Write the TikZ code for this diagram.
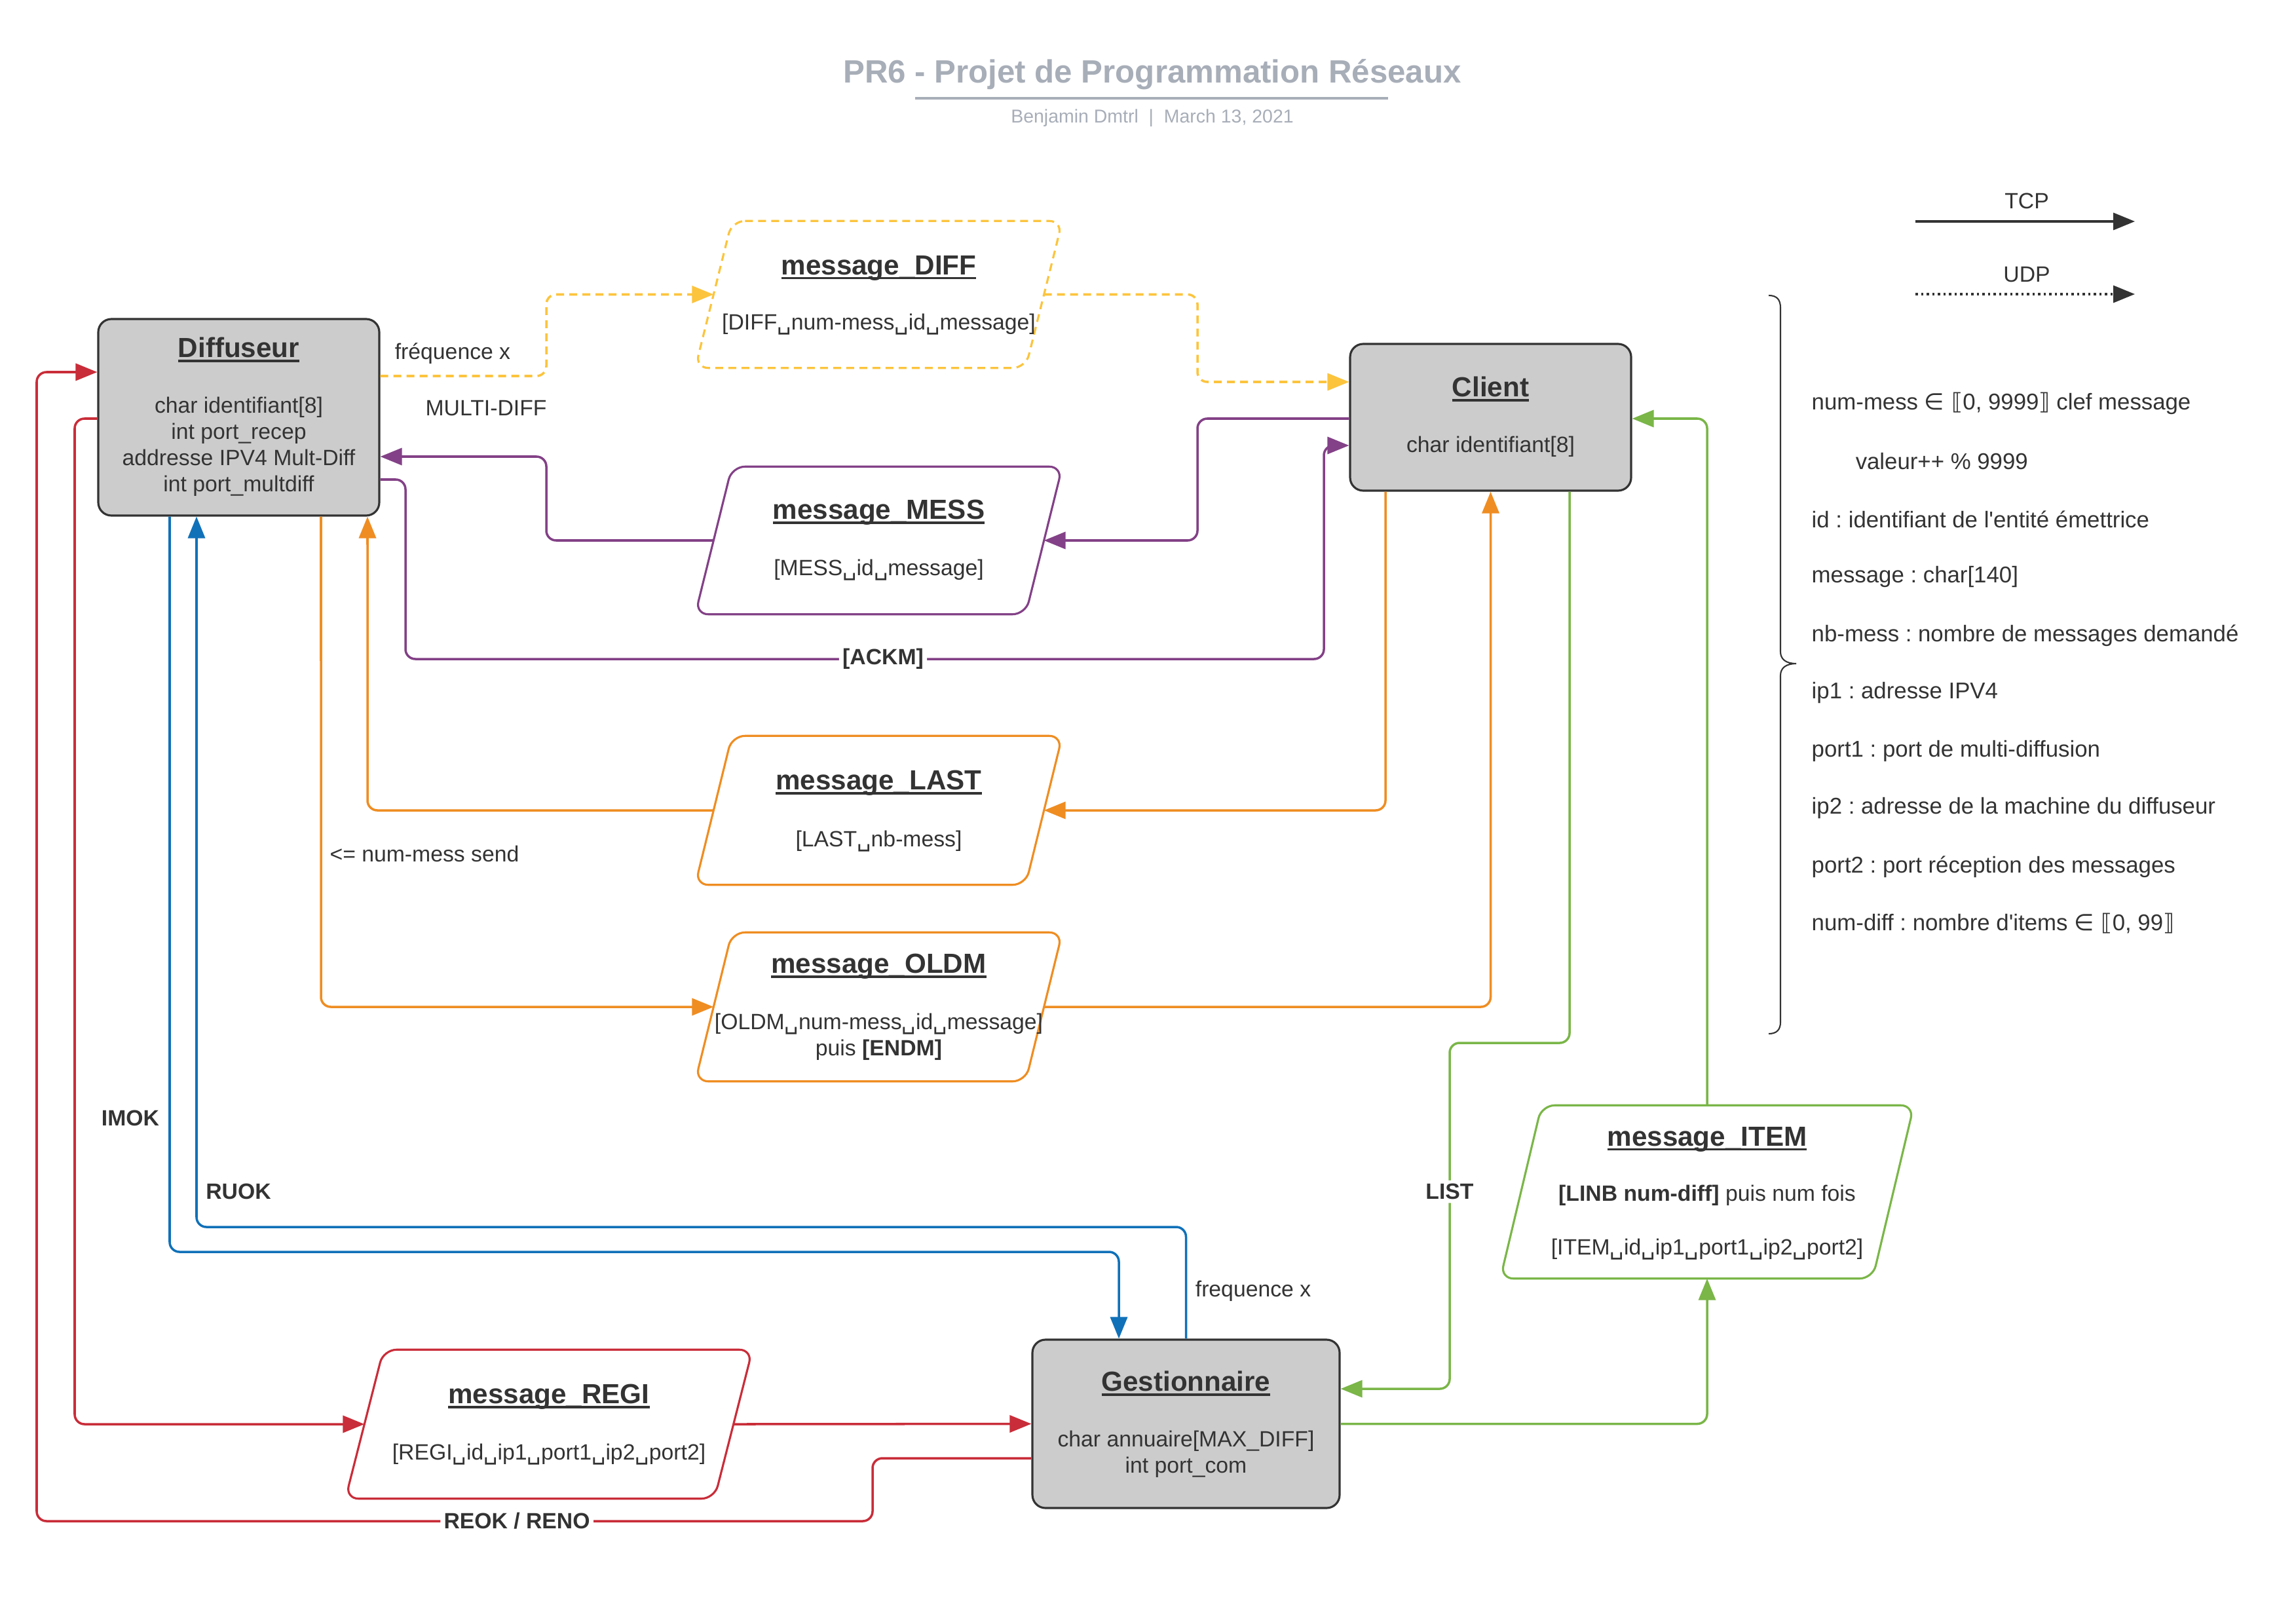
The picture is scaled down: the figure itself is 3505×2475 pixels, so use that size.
\documentclass[tikz,border=0pt]{standalone}
\usepackage{fontspec}
\setmainfont{Liberation Sans}[Ligatures=TeXOff]
\newfontfamily\djv{DejaVu Sans}
\usetikzlibrary{arrows.meta,calc}
\definecolor{txt}{HTML}{333333}
\definecolor{boxfill}{HTML}{CCCCCC}
\definecolor{ttl}{HTML}{A8AEB8}
\definecolor{cyel}{HTML}{FCC43D}
\definecolor{cpur}{HTML}{834187}
\definecolor{cora}{HTML}{EF8D22}
\definecolor{cblu}{HTML}{1071B9}
\definecolor{cred}{HTML}{C92D39}
\definecolor{cgrn}{HTML}{7AB648}
\frenchspacing
\newcommand\vs{{\djv\char"2423}}
\newcommand\ulb[1]{\setbox0\hbox{#1}\rlap{\vrule width\wd0 height -1.1pt depth 2.1pt}\box0}
\newcommand\fsbody{\fontsize{9.6}{11.4}\selectfont\frenchspacing}
\newcommand\fshead{\fontsize{12}{14}\selectfont\bfseries}
\newcommand\mypgram[3]{\draw[#3, line width=0.9pt, rounded corners=2mm]
  ($(#1.north west)+(#2,0)$) -- ($(#1.north east)+(#2,0)$) --
  ($(#1.south east)+(-#2,0)$) -- ($(#1.south west)+(-#2,0)$) -- cycle;}
\begin{document}
\begin{tikzpicture}[x=0.1mm,y=-0.1mm, font=\fsbody, text=txt,
  ent/.style={draw=txt, fill=boxfill, rounded corners=2mm, line width=0.9pt, inner sep=0pt},
  pg/.style={inner sep=0pt},
  lab/.style={inner sep=1pt, text=txt},
  blab/.style={inner sep=1.5pt, text=txt, font=\fsbody\bfseries},
  conn/.style={line width=1pt, rounded corners=1.5mm, -{Triangle[length=3.3mm,width=2.6mm]}},
  ydash/.style={dash pattern=on 1.2mm off 0.8mm}]
\useasboundingbox[fill=white] (0,0) rectangle (3505,2475);

% title
\node[font=\fontsize{14}{16}\selectfont\bfseries, text=ttl] (title) at (1759,114) {PR6 - Projet de Programmation Réseaux};
\draw[ttl, line width=1pt] (1397,150) -- (2119,150);
\node[font=\fontsize{8.1}{10}\selectfont, text=ttl] (sub) at (1759,180) {Benjamin Dmtrl\ \ |\ \ March 13, 2021};

% legend
\node (tcp) at (3094,307) {TCP};
\node (udp) at (3094,419) {UDP};
\coordinate (tcpA) at (2924,338);
\coordinate (tcpB) at (3259,338);
\coordinate (udpA) at (2924,449);
\coordinate (udpB) at (3259,449);
\draw[conn, txt] (tcpA) -- (tcpB);
\draw[conn, txt, dash pattern=on 0.35mm off 0.5mm] (udpA) -- (udpB);

% brace
\draw[txt, line width=0.6pt] (2700,451) .. controls (2712,451) and (2718,457) .. (2718,470) -- (2718,995)
  .. controls (2718,1006) and (2726,1013) .. (2742,1013)
  .. controls (2726,1013) and (2718,1020) .. (2718,1031) -- (2718,1560)
  .. controls (2718,1572) and (2712,1578) .. (2700,1578);

% definitions list
\begin{scope}[every node/.style={anchor=west, inner sep=0pt, font=\fontsize{9.9}{12}\selectfont\frenchspacing}]
\node (d1) at (2765,616) {num-mess {\djv∈ ⟦}0, 9999{\djv⟧} clef message};
\node (d2) at (2832,704) {valeur++ \% 9999};
\node (d3) at (2765,793) {id : identifiant de l'entité émettrice};
\node (d4) at (2765,880) {message : char[140]};
\node (d5) at (2765,970) {nb-mess : nombre de messages demandé};
\node (d6) at (2765,1057) {ip1 : adresse IPV4};
\node (d7) at (2765,1146) {port1 : port de multi-diffusion};
\node (d8) at (2765,1233) {ip2 : adresse de la machine du diffuseur};
\node (d9) at (2765,1323) {port2 : port réception des messages};
\node (d10) at (2765,1410) {num-diff : nombre d'items {\djv∈ ⟦}0, 99{\djv⟧}};
\end{scope}

% entities
\node[ent, minimum width=42.9mm, minimum height=30mm] (diff) at (364.5,637) {};
\node (diffT) at (364.5,534) {\fshead\ulb{Diffuseur}};
\node[align=center] (diffB) at (364.5,682) {char identifiant[8]\\int port\_recep\\addresse IPV4 Mult-Diff\\int port\_multdiff};

\node[ent, minimum width=42.9mm, minimum height=22.4mm] (client) at (2275.5,637) {};
\node (clientT) at (2275.5,594) {\fshead\ulb{Client}};
\node (clientB) at (2275.5,682) {char identifiant[8]};

\node[ent, minimum width=46.9mm, minimum height=25.7mm] (gest) at (1810.5,2173.5) {};
\node (gestT) at (1810.5,2112) {\fshead\ulb{Gestionnaire}};
\node[align=center] (gestB) at (1810.5,2220) {char annuaire[MAX\_DIFF]\\int port\_com};

% messages
\node[pg, minimum width=50.3mm, minimum height=22.3mm] (mdiff) at (1341.5,449.5) {};
\mypgram{mdiff}{28}{cyel, ydash}
\node (mdiffT) at (1341.5,409) {\fshead\ulb{message\_DIFF}};
\node (mdiffB) at (1341.5,495) {[DIFF\vs num-mess\vs id\vs message]};

\node[pg, minimum width=50.3mm, minimum height=22.4mm] (mmess) at (1341.5,825) {};
\mypgram{mmess}{28}{cpur}
\node (mmessT) at (1341.5,782) {\fshead\ulb{message\_MESS}};
\node (mmessB) at (1341.5,870) {[MESS\vs id\vs message]};

\node[pg, minimum width=50.3mm, minimum height=22.6mm] (mlast) at (1341.5,1237) {};
\mypgram{mlast}{28}{cora}
\node (mlastT) at (1341.5,1195) {\fshead\ulb{message\_LAST}};
\node (mlastB) at (1341.5,1284) {[LAST\vs nb-mess]};

\node[pg, minimum width=50.3mm, minimum height=22.6mm] (moldm) at (1341.5,1537) {};
\mypgram{moldm}{28}{cora}
\node (moldmT) at (1341.5,1475) {\fshead\ulb{message\_OLDM}};
\node[align=center] (moldmB) at (1341.5,1583) {[OLDM\vs num-mess\vs id\vs message]\\puis \textbf{[ENDM]}};

\node[pg, minimum width=56.7mm, minimum height=26.3mm] (mitem) at (2606,1819.5) {};
\mypgram{mitem}{31.5}{cgrn}
\node (mitemT) at (2606,1739) {\fshead\ulb{message\_ITEM}};
\node (mitemB) at (2606,1825) {\textbf{[LINB num-diff]} puis num fois};
\node (mitemC) at (2606,1907) {[ITEM\vs id\vs ip1\vs port1\vs ip2\vs port2]};

\node[pg, minimum width=56.2mm, minimum height=22.6mm] (mregi) at (838,2174) {};
\mypgram{mregi}{29}{cred}
\node (mregiT) at (838,2132) {\fshead\ulb{message\_REGI}};
\node (mregiB) at (838,2220) {[REGI\vs id\vs ip1\vs port1\vs ip2\vs port2]};

% connectors: yellow (UDP)
\draw[conn, cyel, ydash] ([yshift=6.3mm]diff.east) -- (834,574) -- (834,449.5) -- (mdiff.west);
\draw[conn, cyel, ydash] (mdiff.east) -- (1828,449.5) -- (1828,583) -- ([yshift=5.4mm]client.west);
% purple
\draw[conn, cpur] (mmess.west) -- (834,825) -- (834,697) -- ([yshift=-6mm]diff.east);
\draw[conn, cpur] ([yshift=-0.2mm]client.west) -- (1828,639) -- (1828,825) -- (mmess.east);
\draw[conn, cpur] ([yshift=-9.5mm]diff.east) -- (619,732) -- (619,1006) -- node[blab, fill=white, pos=0.52] (lackm) {[ACKM]} (2021,1006) -- (2021,680) -- ([yshift=-4.3mm]client.west);
% orange
\draw[conn, cora] ([xshift=-16.05mm]client.south) -- (2115,1237) -- (mlast.east);
\draw[conn, cora] (mlast.west) -- (561,1237) -- ([xshift=19.65mm]diff.south);
\draw[conn, cora] ([xshift=12.55mm]diff.south) -- (490,1537) -- (moldm.west);
\draw[conn, cora] (moldm.east) -- (2275.5,1537) -- (client.south);
% blue
\draw[conn, cblu] ([xshift=-10.55mm]diff.south) -- (259,1911) -- (1708,1911) -- ([xshift=-10.25mm]gest.north);
\draw[conn, cblu] (gest.north) -- (1810.5,1873) -- (300,1873) -- ([xshift=-6.45mm]diff.south);
% red
\draw[conn, cred] ([yshift=-0.2mm]diff.west) -- (114,639) -- (114,2174) -- (mregi.west);
\draw[conn, cred] (mregi.east) -- (gest.west);
\draw[conn, cred] ([yshift=-5.25mm]gest.west) -- (1332,2226) -- (1332,2322) -- node[blab, fill=white, pos=0.4255] (lreok) {REOK / RENO} (56,2322) -- (56,568) -- ([yshift=6.9mm]diff.west);
% green
\draw[conn, cgrn] ([xshift=12.05mm]client.south) -- (2396,1592) -- (2213,1592) -- node[blab, fill=white, pos=0.43] (llist) {LIST} (2213,2120) -- ([yshift=5.35mm]gest.east);
\draw[conn, cgrn] (gest.east) -- (2606,2173.5) -- (mitem.south);
\draw[conn, cgrn] (mitem.north) -- (2606,639) -- ([yshift=-0.2mm]client.east);

% labels
\node[lab] (lfreq) at (691,540) {fréquence x};
\node[lab] (lmulti) at (742,623) {MULTI-DIFF};
\node[lab] (lnum) at (648,1303) {<= num-mess send};
\node[blab] (limok) at (199,1707) {IMOK};
\node[blab] (lruok) at (364,1819) {RUOK};
\node[lab] (lfreq2) at (1913,1971) {frequence x};
\end{tikzpicture}
\end{document}
